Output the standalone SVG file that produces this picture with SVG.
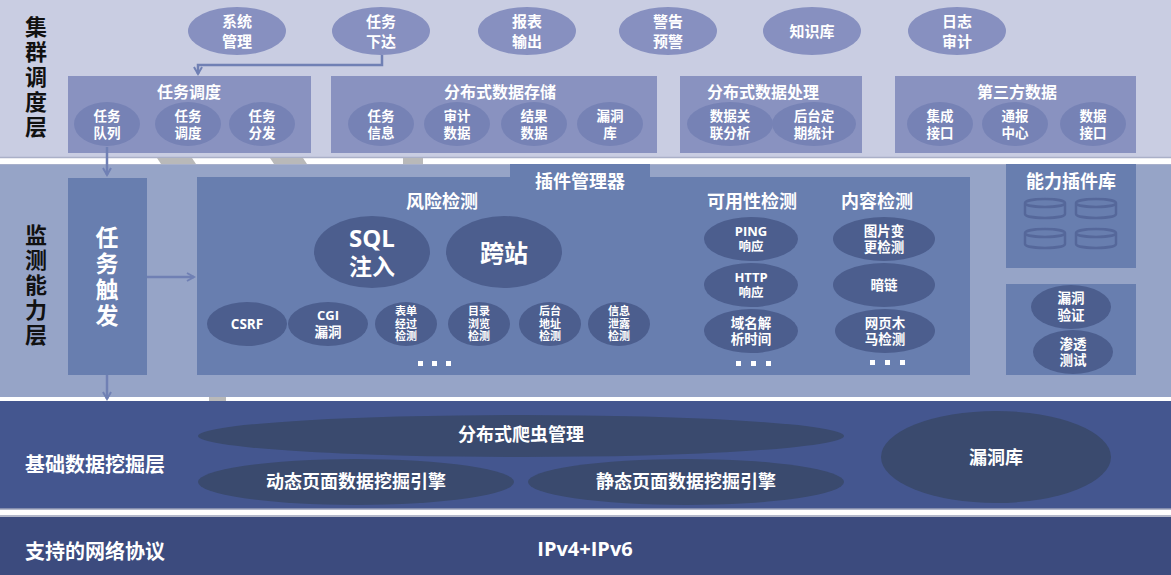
<svg xmlns="http://www.w3.org/2000/svg" width="1171" height="575" viewBox="0 0 1171 575">
<style>
text{font-family:"Liberation Sans","Noto Sans CJK SC",sans-serif;font-weight:700;text-anchor:middle;dominant-baseline:central;fill:#fff}
.lat{font-family:"Open Sans","Noto Sans CJK SC",sans-serif}
.lt{fill:#111;font-size:22px}
.lt2{font-size:20px;text-anchor:start}
.topE{fill:#8790c0}
.box1{fill:#8992c0}
.in1{fill:#7682b5}
.box2{fill:#687eaf}
.dk{fill:#4c5e8e}
.dk3{fill:#3a4a6e}
.t15{font-size:15px}
.t13{font-size:13.5px}
.t16{font-size:16px}
.t18{font-size:18px}
.t11{font-size:11px}
.t12{font-size:12.5px}
.dot{fill:#fff}
.cyl{fill:none;stroke:#55679a;stroke-width:2.5}
.conn{fill:none;stroke:#7080b4;stroke-width:2.5}
</style>
<defs>
<marker id="arr" viewBox="0 0 10 10" refX="8" refY="5" markerWidth="4" markerHeight="4" orient="auto" markerUnits="strokeWidth">
<path d="M1,1 L8,5 L1,9" fill="none" stroke="#7080b4" stroke-width="2"/>
</marker>
</defs>

<!-- layer backgrounds -->
<rect x="0" y="0" width="1171" height="575" fill="#fff"/>
<rect x="0" y="0" width="1171" height="157" fill="#c9cde2"/>
<line x1="0" y1="157.5" x2="1171" y2="157.5" stroke="#aab0c8" stroke-width="1.5"/>
<polygon points="157,158 192,158 196,164 161,164" fill="#b9b9b9"/>
<polygon points="270,158 303,158 307,164 274,164" fill="#b9b9b9"/>
<rect x="403" y="158" width="20" height="6" fill="#b9b9b9"/>
<rect x="0" y="164" width="1171" height="233" fill="#96a4c7"/>
<line x1="0" y1="164.5" x2="1171" y2="164.5" stroke="#a8b0cb" stroke-width="1"/>
<rect x="209" y="397" width="17" height="4" fill="#b9b9b9"/>
<rect x="0" y="401" width="1171" height="108" fill="#44568f"/>
<line x1="0" y1="509" x2="1171" y2="509" stroke="#9aa0b8" stroke-width="1.5"/>
<line x1="0" y1="516" x2="1171" y2="516" stroke="#9aa0b8" stroke-width="1.5"/>
<rect x="0" y="517" width="1171" height="58" fill="#3c4b7e"/>

<!-- layer titles -->
<g id="title-cluster">
<text class="lt"><tspan x="36" y="27">集</tspan><tspan x="36" y="52">群</tspan><tspan x="36" y="77">调</tspan><tspan x="36" y="102">度</tspan><tspan x="36" y="127">层</tspan></text>
</g>
<g id="title-monitor">
<text class="lt"><tspan x="36" y="235">监</tspan><tspan x="36" y="260">测</tspan><tspan x="36" y="285">能</tspan><tspan x="36" y="310">力</tspan><tspan x="36" y="335">层</tspan></text>
</g>
<g id="title-mining"><text class="lt2" x="25" y="465">基础数据挖掘层</text></g>
<g id="title-protocol"><text class="lt2" x="25" y="552">支持的网络协议</text></g>

<!-- top ellipses -->
<g id="n-sys"><ellipse class="topE" cx="237" cy="31" rx="49" ry="24"/><text class="t15"><tspan x="237" y="21">系统</tspan><tspan x="237" y="41">管理</tspan></text></g>
<g id="n-task-issue"><ellipse class="topE" cx="381" cy="31" rx="49" ry="24"/><text class="t15"><tspan x="381" y="21">任务</tspan><tspan x="381" y="41">下达</tspan></text></g>
<g id="n-report"><ellipse class="topE" cx="527" cy="31" rx="49" ry="24"/><text class="t15"><tspan x="527" y="21">报表</tspan><tspan x="527" y="41">输出</tspan></text></g>
<g id="n-alarm"><ellipse class="topE" cx="668" cy="31" rx="49" ry="24"/><text class="t15"><tspan x="668" y="21">警告</tspan><tspan x="668" y="41">预警</tspan></text></g>
<g id="n-kb"><ellipse class="topE" cx="812" cy="31" rx="49" ry="24"/><text class="t15" x="812" y="31">知识库</text></g>
<g id="n-log"><ellipse class="topE" cx="957" cy="31" rx="49" ry="24"/><text class="t15"><tspan x="957" y="21">日志</tspan><tspan x="957" y="41">审计</tspan></text></g>

<!-- layer 1 boxes -->
<g id="n-schedule">
<rect class="box1" x="68" y="76" width="243" height="77"/>
<text class="t16" x="189" y="92">任务调度</text>
<ellipse class="in1" cx="107" cy="124" rx="33" ry="22"/><text class="t13"><tspan x="107" y="116">任务</tspan><tspan x="107" y="133">队列</tspan></text>
<ellipse class="in1" cx="188" cy="124" rx="33" ry="22"/><text class="t13"><tspan x="188" y="116">任务</tspan><tspan x="188" y="133">调度</tspan></text>
<ellipse class="in1" cx="262" cy="124" rx="33" ry="22"/><text class="t13"><tspan x="262" y="116">任务</tspan><tspan x="262" y="133">分发</tspan></text>
</g>
<g id="n-storage">
<rect class="box1" x="331" y="76" width="326" height="77"/>
<text class="t16" x="500" y="92">分布式数据存储</text>
<ellipse class="in1" cx="381" cy="124" rx="33" ry="22"/><text class="t13"><tspan x="381" y="116">任务</tspan><tspan x="381" y="133">信息</tspan></text>
<ellipse class="in1" cx="457" cy="124" rx="33" ry="22"/><text class="t13"><tspan x="457" y="116">审计</tspan><tspan x="457" y="133">数据</tspan></text>
<ellipse class="in1" cx="534" cy="124" rx="33" ry="22"/><text class="t13"><tspan x="534" y="116">结果</tspan><tspan x="534" y="133">数据</tspan></text>
<ellipse class="in1" cx="610" cy="124" rx="33" ry="22"/><text class="t13"><tspan x="610" y="116">漏洞</tspan><tspan x="610" y="133">库</tspan></text>
</g>
<g id="n-processing">
<rect class="box1" x="680" y="76" width="182" height="77"/>
<text class="t16" x="763" y="92">分布式数据处理</text>
<ellipse class="in1" cx="730" cy="124" rx="43" ry="22"/><text class="t13"><tspan x="730" y="116">数据关</tspan><tspan x="730" y="133">联分析</tspan></text>
<ellipse class="in1" cx="814" cy="124" rx="42" ry="22"/><text class="t13"><tspan x="814" y="116">后台定</tspan><tspan x="814" y="133">期统计</tspan></text>
</g>
<g id="n-thirdparty">
<rect class="box1" x="895" y="76" width="241" height="77"/>
<text class="t16" x="1017" y="92">第三方数据</text>
<ellipse class="in1" cx="940" cy="124" rx="33" ry="22"/><text class="t13"><tspan x="940" y="116">集成</tspan><tspan x="940" y="133">接口</tspan></text>
<ellipse class="in1" cx="1015" cy="124" rx="33" ry="22"/><text class="t13"><tspan x="1015" y="116">通报</tspan><tspan x="1015" y="133">中心</tspan></text>
<ellipse class="in1" cx="1093" cy="124" rx="33" ry="22"/><text class="t13"><tspan x="1093" y="116">数据</tspan><tspan x="1093" y="133">接口</tspan></text>
</g>

<!-- layer 2 -->
<g id="n-trigger">
<rect class="box2" x="68" y="178" width="79" height="197"/>
<text style="font-size:23px"><tspan x="107" y="238">任</tspan><tspan x="107" y="264">务</tspan><tspan x="107" y="290">触</tspan><tspan x="107" y="316">发</tspan></text>
</g>
<g id="n-plugin-manager">
<rect class="box2" x="197" y="177" width="773" height="198"/>
<rect class="box2" x="510" y="164" width="140" height="14"/>
<text class="t18" x="580" y="182">插件管理器</text>
</g>
<g id="n-risk">
<text class="t18" x="442" y="202">风险检测</text>
<ellipse class="dk" cx="372" cy="252" rx="58" ry="36"/>
<text><tspan class="lat" x="372" y="237" style="font-size:24px">SQL</tspan><tspan x="372" y="267" style="font-size:23px">注入</tspan></text>
<ellipse class="dk" cx="504" cy="252" rx="58" ry="36"/>
<text x="504" y="253" style="font-size:24px">跨站</text>
<ellipse class="dk" cx="247" cy="324" rx="40" ry="22"/><text class="t13 lat" x="247" y="324">CSRF</text>
<ellipse class="dk" cx="328" cy="324" rx="40" ry="22"/><text class="t13"><tspan class="lat" x="328" y="315" style="font-size:13px">CGI</tspan><tspan x="328" y="332">漏洞</tspan></text>
<ellipse class="dk" cx="406" cy="324" rx="31" ry="22"/><text class="t11"><tspan x="406" y="311">表单</tspan><tspan x="406" y="323.5">经过</tspan><tspan x="406" y="336">检测</tspan></text>
<ellipse class="dk" cx="479" cy="324" rx="31" ry="22"/><text class="t11"><tspan x="479" y="311">目录</tspan><tspan x="479" y="323.5">浏览</tspan><tspan x="479" y="336">检测</tspan></text>
<ellipse class="dk" cx="550" cy="324" rx="31" ry="22"/><text class="t11"><tspan x="550" y="311">后台</tspan><tspan x="550" y="323.5">地址</tspan><tspan x="550" y="336">检测</tspan></text>
<ellipse class="dk" cx="619" cy="324" rx="31" ry="22"/><text class="t11"><tspan x="619" y="311">信息</tspan><tspan x="619" y="323.5">泄露</tspan><tspan x="619" y="336">检测</tspan></text>
<rect class="dot" x="418" y="361" width="5" height="5"/><rect class="dot" x="432" y="361" width="5" height="5"/><rect class="dot" x="446" y="361" width="5" height="5"/>
</g>
<g id="n-availability">
<text class="t18" x="752" y="202">可用性检测</text>
<ellipse class="dk" cx="751" cy="239" rx="47" ry="22"/><text><tspan class="lat" x="751" y="231" style="font-size:13px">PING</tspan><tspan class="t12" x="751" y="247">响应</tspan></text>
<ellipse class="dk" cx="751" cy="285" rx="47" ry="22"/><text><tspan class="lat" x="751" y="277" style="font-size:13px">HTTP</tspan><tspan class="t12" x="751" y="293">响应</tspan></text>
<ellipse class="dk" cx="751" cy="331" rx="47" ry="22"/><text class="t13"><tspan x="751" y="323">域名解</tspan><tspan x="751" y="339">析时间</tspan></text>
<rect class="dot" x="736" y="361" width="5" height="5"/><rect class="dot" x="751" y="361" width="5" height="5"/><rect class="dot" x="766" y="361" width="5" height="5"/>
</g>
<g id="n-content">
<text class="t18" x="877" y="202">内容检测</text>
<ellipse class="dk" cx="884" cy="239" rx="51" ry="22"/><text class="t13"><tspan x="884" y="231">图片变</tspan><tspan x="884" y="247">更检测</tspan></text>
<ellipse class="dk" cx="884" cy="285" rx="51" ry="22"/><text class="t13" x="884" y="285">暗链</text>
<ellipse class="dk" cx="885" cy="331" rx="50" ry="22"/><text class="t13"><tspan x="885" y="323">网页木</tspan><tspan x="885" y="339">马检测</tspan></text>
<rect class="dot" x="870" y="360" width="5" height="5"/><rect class="dot" x="885" y="360" width="5" height="5"/><rect class="dot" x="900" y="360" width="5" height="5"/>
</g>
<g id="n-plugin-lib">
<rect class="box2" x="1006" y="164" width="130" height="104"/>
<text class="t18" x="1071" y="182">能力插件库</text>
<path class="cyl" d="M1025,203 a20,4 0 0,1 40,0 v11 a20,4 0 0,1 -40,0 z M1025,203 a20,4 0 0,0 40,0"/>
<path class="cyl" d="M1076,203 a20,4 0 0,1 40,0 v11 a20,4 0 0,1 -40,0 z M1076,203 a20,4 0 0,0 40,0"/>
<path class="cyl" d="M1025,233 a20,4 0 0,1 40,0 v11 a20,4 0 0,1 -40,0 z M1025,233 a20,4 0 0,0 40,0"/>
<path class="cyl" d="M1076,233 a20,4 0 0,1 40,0 v11 a20,4 0 0,1 -40,0 z M1076,233 a20,4 0 0,0 40,0"/>
</g>
<g id="n-vuln-verify">
<rect class="box2" x="1006" y="284" width="130" height="91"/>
<ellipse class="dk" cx="1071" cy="307" rx="40" ry="22"/><text class="t13"><tspan x="1071" y="298">漏洞</tspan><tspan x="1071" y="315">验证</tspan></text>
<ellipse class="dk" cx="1073" cy="352" rx="40" ry="22"/><text class="t13"><tspan x="1073" y="344">渗透</tspan><tspan x="1073" y="360">测试</tspan></text>
</g>

<!-- layer 3 -->
<g id="n-crawler"><ellipse class="dk3" cx="521" cy="436" rx="323" ry="21"/><text class="t18" x="521" y="435">分布式爬虫管理</text></g>
<g id="n-dynamic"><ellipse class="dk3" cx="356" cy="482" rx="158" ry="23"/><text class="t18" x="356" y="482">动态页面数据挖掘引擎</text></g>
<g id="n-static"><ellipse class="dk3" cx="686" cy="482" rx="158" ry="23"/><text class="t18" x="686" y="482">静态页面数据挖掘引擎</text></g>
<g id="n-vulndb"><ellipse class="dk3" cx="996" cy="457" rx="115" ry="46"/><text class="t18" x="996" y="458">漏洞库</text></g>

<!-- layer 4 -->
<g id="n-ip"><text class="lat" x="585" y="548" style="font-size:20px">IPv4+IPv6</text></g>

<!-- connectors -->
<g id="connectors">
<polyline class="conn" points="382,55 382,65 198,65 198,74" marker-end="url(#arr)"/>
<line class="conn" x1="107" y1="147" x2="107" y2="175" marker-end="url(#arr)"/>
<line class="conn" x1="147" y1="277" x2="194" y2="277" marker-end="url(#arr)"/>
<line class="conn" x1="107" y1="375" x2="107" y2="399" marker-end="url(#arr)"/>
</g>
</svg>
